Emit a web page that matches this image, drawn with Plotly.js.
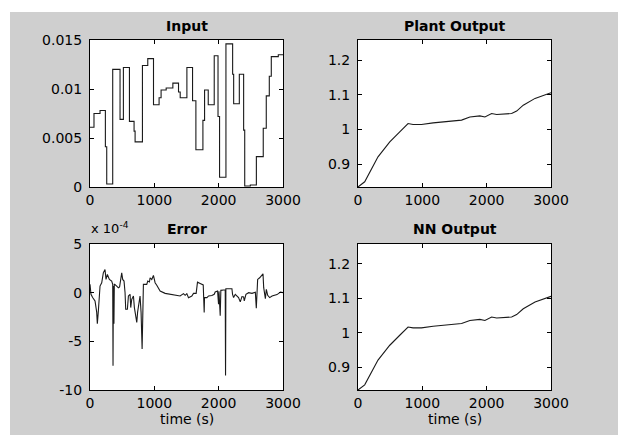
<!DOCTYPE html>
<html>
<head>
<meta charset="utf-8">
<script src="https://cdn.plot.ly/plotly-3.0.1.min.js"></script>
<style>html,body{margin:0;padding:0;background:#fff;}#chart{width:618px;height:435px;}</style>
</head>
<body>
<div id="chart"></div>
<script>
// ---- data ----
const inputTime = [0, 62, 156, 239, 260, 353, 467, 519, 613, 685, 701, 815, 898, 987, 1074, 1105, 1184, 1288, 1376, 1402, 1506, 1594, 1646, 1755, 1781, 1838, 1931, 1990, 2014, 2113, 2217, 2233, 2321, 2388, 2405, 2492, 2586, 2693, 2740, 2787, 2818, 2927, 3000];
const inputValue = [0.0061, 0.0075, 0.0078, 0.0041, 0.0003, 0.0120, 0.0069, 0.0122, 0.0067, 0.0057, 0.0046, 0.0124, 0.0131, 0.0084, 0.0091, 0.0099, 0.0101, 0.0106, 0.0097, 0.0091, 0.0122, 0.0088, 0.0038, 0.0068, 0.0099, 0.0084, 0.0134, 0.0072, 0.0010, 0.0146, 0.0115, 0.0085, 0.0115, 0.0058, 0.0001, 0.0002, 0.0031, 0.0060, 0.0093, 0.0113, 0.0133, 0.0135, 0.0135];

const plantTime = [0, 104, 311, 494, 649, 778, 856, 986, 1168, 1376, 1610, 1739, 1895, 1973, 2077, 2155, 2388, 2466, 2569, 2752, 3000];
const plantValue = [0.834, 0.849, 0.921, 0.964, 0.993, 1.017, 1.0144, 1.0144, 1.019, 1.022, 1.027, 1.036, 1.039, 1.036, 1.046, 1.043, 1.046, 1.053, 1.070, 1.0896, 1.106];

const nnTime = [0, 104, 311, 494, 649, 778, 856, 986, 1168, 1376, 1610, 1739, 1895, 1973, 2077, 2155, 2388, 2466, 2569, 2752, 3000];
const nnValue = [0.834, 0.849, 0.921, 0.964, 0.993, 1.017, 1.0144, 1.0144, 1.019, 1.022, 1.027, 1.036, 1.039, 1.036, 1.046, 1.043, 1.046, 1.053, 1.070, 1.0896, 1.106];

// error in units of 1e-4
const errTime = [0,15,41,78,104,114,130,156,182,207,233,249,270,301,337,353,358,363,372,378,384,415,441,460,477,493,508,529,545,555,581,597,623,633,649,675,690,711,727,740,753,778,794,810,820,830,856,882,898,924,934,960,986,1012,1038,1064,1090,1168,1297,1401,1453,1479,1505,1531,1583,1609,1650,1671,1713,1739,1760,1775,1780,1817,1843,1894,1931,1946,1983,1998,2005,2024,2034,2076,2102,2107,2112,2154,2206,2216,2232,2258,2284,2309,2336,2362,2388,2398,2424,2466,2518,2570,2585,2596,2606,2637,2674,2689,2700,2726,2741,2762,2793,2830,2907,2960,3000];
const errValueE4 = [0.86,-0.17,-0.5,-0.85,-2.0,-3.2,-1.87,0.68,1.02,2.04,2.38,1.36,1.87,1.36,1.19,0.85,-7.5,0.68,-3.2,0.85,0.85,0.68,0.5,0.6,1.53,2.04,1.36,1.19,0.0,-1.7,-1.7,-0.34,-0.17,-1.53,-0.68,-0.34,-1.53,-2.55,-3.06,-2.0,-1.19,-0.34,-2.04,-5.78,-2.55,0.85,0.85,0.85,1.19,1.1,1.53,1.36,1.77,1.02,0.76,0.42,0.17,-0.07,-0.24,-0.34,-0.1,-0.27,-0.1,-0.51,-0.34,-0.07,-0.07,1.08,0.95,0.85,0.8,-2.04,-0.51,-0.51,-0.34,-0.3,-0.17,0.07,0.17,-1.19,0.15,-2.38,0.24,0.27,0.27,-8.5,0.41,0.41,0.41,-0.17,-0.5,-0.17,-0.3,-0.51,-0.95,-0.4,-0.45,-0.85,-0.17,0,-0.07,0.05,-1.6,0.1,1.36,1.53,1.87,1.94,0.51,-0.61,0.34,-0.27,-0.51,-0.34,-0.2,0.07,0];

const timeTicks = [0, 1000, 2000, 3000];
const timeTickText = ['0', '1000', '2000', '3000'];
const inputTicks = [0, 0.005, 0.01, 0.015];
const inputTickText = ['0', '0.005', '0.01', '0.015'];
const outTicks = [0.9, 1.0, 1.1, 1.2];
const outTickText = ['0.9', '1', '1.1', '1.2'];
const errTicks = [-10, -5, 0, 5];
const errTickText = ['-10', '-5', '0', '5'];

const titles = ['Input', 'Plant Output', 'Error', 'NN Output'];
const xLabel = 'time (s)';

// ---- layout ----
const W = 618, H = 435;
const px = v => v / W, py = v => 1 - v / H;
const colL = [px(90), px(283)], colR = [px(358), px(551)];
const rowT = [py(187), py(40)], rowB = [py(390), py(244)];
const tickFont = {family: 'DejaVu Sans', size: 14, color: '#000'};
const lineStyle = {color: '#1a1a1a', width: 1.1};

function xax(domain, anchor) {
  return {domain, anchor, range: [0, 3000], tickvals: timeTicks, ticktext: timeTickText,
    showline: true, linecolor: '#000', linewidth: 1, mirror: 'ticks', ticks: 'inside', ticklen: 4,
    tickcolor: '#000', showgrid: false, zeroline: false, tickfont: tickFont, fixedrange: true, ticklabelstandoff: 0};
}
function yax(domain, anchor, range, tv, tt) {
  return {domain, anchor, range, tickvals: tv, ticktext: tt,
    showline: true, linecolor: '#000', linewidth: 1, mirror: 'ticks', ticks: 'inside', ticklen: 4,
    tickcolor: '#000', showgrid: false, zeroline: false, tickfont: tickFont, fixedrange: true, ticklabelstandoff: 4};
}

const traces = [
  {x: inputTime, y: inputValue, xaxis: 'x', yaxis: 'y', mode: 'lines', line: Object.assign({shape: 'hv'}, lineStyle)},
  {x: plantTime, y: plantValue, xaxis: 'x2', yaxis: 'y2', mode: 'lines', line: lineStyle},
  {x: errTime, y: errValueE4, xaxis: 'x3', yaxis: 'y3', mode: 'lines', line: lineStyle},
  {x: nnTime, y: nnValue, xaxis: 'x4', yaxis: 'y4', mode: 'lines', line: lineStyle}
];

const titleFont = {family: 'DejaVu Sans', size: 14, color: '#000', weight: 'bold'};
const ann = [
  {text: '<b>' + titles[0] + '</b>', x: (colL[0] + colL[1]) / 2, y: py(26), font: titleFont},
  {text: '<b>' + titles[1] + '</b>', x: (colR[0] + colR[1]) / 2, y: py(26), font: titleFont},
  {text: '<b>' + titles[2] + '</b>', x: (colL[0] + colL[1]) / 2, y: py(229), font: titleFont},
  {text: '<b>' + titles[3] + '</b>', x: (colR[0] + colR[1]) / 2, y: py(229), font: titleFont},
  {text: 'x 10<sup>-4</sup>', x: px(89), y: py(228), xanchor: 'left', font: {family: 'DejaVu Sans', size: 13, color: '#000'}},
  {text: xLabel, x: (colL[0] + colL[1]) / 2, y: py(419), font: tickFont},
  {text: xLabel, x: (colR[0] + colR[1]) / 2, y: py(419), font: tickFont}
].map(a => Object.assign({xref: 'paper', yref: 'paper', showarrow: false, xanchor: 'center', yanchor: 'middle'}, a));

const layout = {
  width: W, height: H, margin: {l: 0, r: 0, t: 0, b: 0},
  paper_bgcolor: '#cfcfcf', plot_bgcolor: '#ffffff', showlegend: false,
  xaxis: xax(colL, 'y'), yaxis: yax(rowT, 'x', [0, 0.015], inputTicks, inputTickText),
  xaxis2: xax(colR, 'y2'), yaxis2: yax(rowT, 'x2', [0.834, 1.258], outTicks, outTickText),
  xaxis3: xax(colL, 'y3'), yaxis3: yax(rowB, 'x3', [-10, 5], errTicks, errTickText),
  xaxis4: xax(colR, 'y4'), yaxis4: yax(rowB, 'x4', [0.834, 1.258], outTicks, outTickText),
  annotations: ann,
  shapes: [
    {type: 'rect', xref: 'paper', yref: 'paper', x0: 0, x1: 1, y0: py(12), y1: 1, fillcolor: '#ffffff', line: {width: 0}, layer: 'below'},
    {type: 'rect', xref: 'paper', yref: 'paper', x0: 0, x1: px(10), y0: 0, y1: 1, fillcolor: '#ffffff', line: {width: 0}, layer: 'below'}
  ]
};

Plotly.newPlot('chart', traces, layout, {displayModeBar: false, staticPlot: true});
</script>
</body>
</html>
